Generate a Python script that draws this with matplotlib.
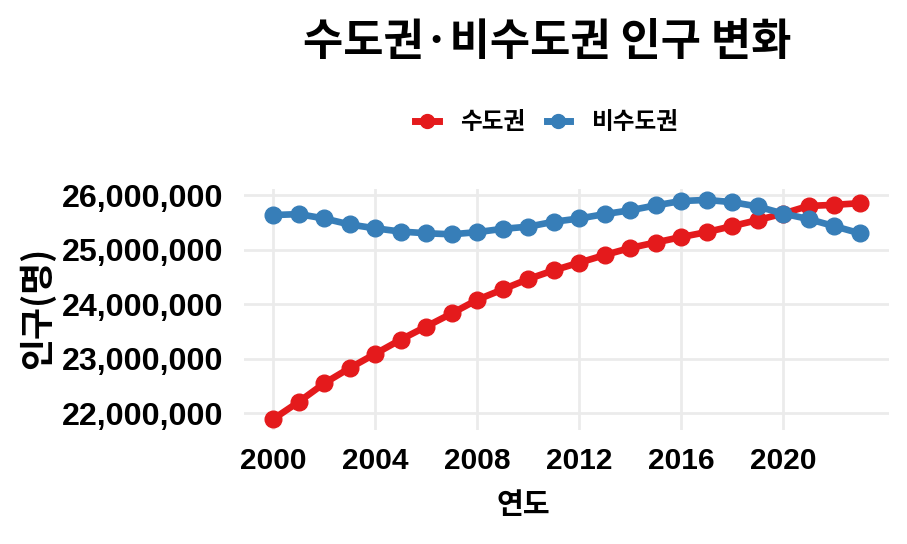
import matplotlib
matplotlib.use("Agg")
import matplotlib.pyplot as plt
from matplotlib.ticker import FuncFormatter
from matplotlib.lines import Line2D

years = list(range(2000, 2024))
capital = [21.895, 22.21, 22.55, 22.83, 23.09, 23.35, 23.59, 23.83, 24.08, 24.27, 24.46, 24.62,
           24.76, 24.90, 25.03, 25.13, 25.23, 25.32, 25.43, 25.54, 25.66, 25.80, 25.82, 25.85]
non_capital = [25.633, 25.65, 25.57, 25.46, 25.39, 25.33, 25.30, 25.28, 25.32, 25.38, 25.42, 25.51,
               25.57, 25.65, 25.72, 25.81, 25.89, 25.91, 25.87, 25.79, 25.66, 25.56, 25.43, 25.30]
capital = [v * 1e6 for v in capital]
non_capital = [v * 1e6 for v in non_capital]

x_ticks = [2000, 2004, 2008, 2012, 2016, 2020]
y_ticks = [22e6, 23e6, 24e6, 25e6, 26e6]

red = '#E41A1C'
blue = '#377EB8'
kor = ['Noto Sans CJK KR', 'DejaVu Sans']
num = ['Liberation Sans', 'DejaVu Sans']

fig = plt.figure(figsize=(9.07, 5.44), dpi=100)
ax = fig.add_axes([0.269, 0.2096, 0.711, 0.443])

ax.plot(years, capital, '-o', color=red, linewidth=4.8, markersize=12, zorder=3)
ax.plot(years, non_capital, '-o', color=blue, linewidth=4.8, markersize=12, zorder=4)

lo, hi = 21.895e6, 25.91e6
pad_y = (hi - lo) * 0.05
ax.set_ylim(lo - pad_y, hi + pad_y)
ax.set_xlim(2000 - 1.15, 2023 + 1.15)

ax.set_xticks(x_ticks)
ax.set_yticks(y_ticks)
ax.yaxis.set_major_formatter(FuncFormatter(lambda v, p: f"{int(v):,}"))
ax.grid(True, color='#EBEBEB', linewidth=2)
ax.set_axisbelow(True)
for s in ax.spines.values():
    s.set_visible(False)
ax.tick_params(axis='y', length=0, pad=15)
ax.tick_params(axis='x', length=0, pad=12)
for lab in ax.get_yticklabels():
    lab.set_fontfamily(num)
    lab.set_fontweight('bold')
    lab.set_fontsize(23.2)
for lab in ax.get_xticklabels():
    lab.set_fontfamily(num)
    lab.set_fontweight('bold')
    lab.set_fontsize(21.5)

fig.text(0.603, 0.922, '수도권·비수도권 인구 변화', ha='center', va='center',
         fontsize=31.5, fontweight='bold', family=kor)
fig.text(0.577, 0.072, '연도', ha='center', va='center',
         fontsize=21, fontweight='bold', family=kor)
fig.text(0.041, 0.434, '인구(명)', ha='center', va='center', rotation=90,
         fontsize=25, fontweight='bold', family=kor)

handles = [Line2D([], [], color=red, marker='o', linewidth=5, markersize=10),
           Line2D([], [], color=blue, marker='o', linewidth=5, markersize=10)]
fig.legend(handles, ['수도권', '비수도권'], loc='center', bbox_to_anchor=(0.603, 0.776),
           ncol=2, frameon=False, handlelength=1.0, columnspacing=0.9, handletextpad=0.9,
           prop={'family': kor, 'weight': 'bold', 'size': 17})

fig.savefig('out.png', dpi=100)
